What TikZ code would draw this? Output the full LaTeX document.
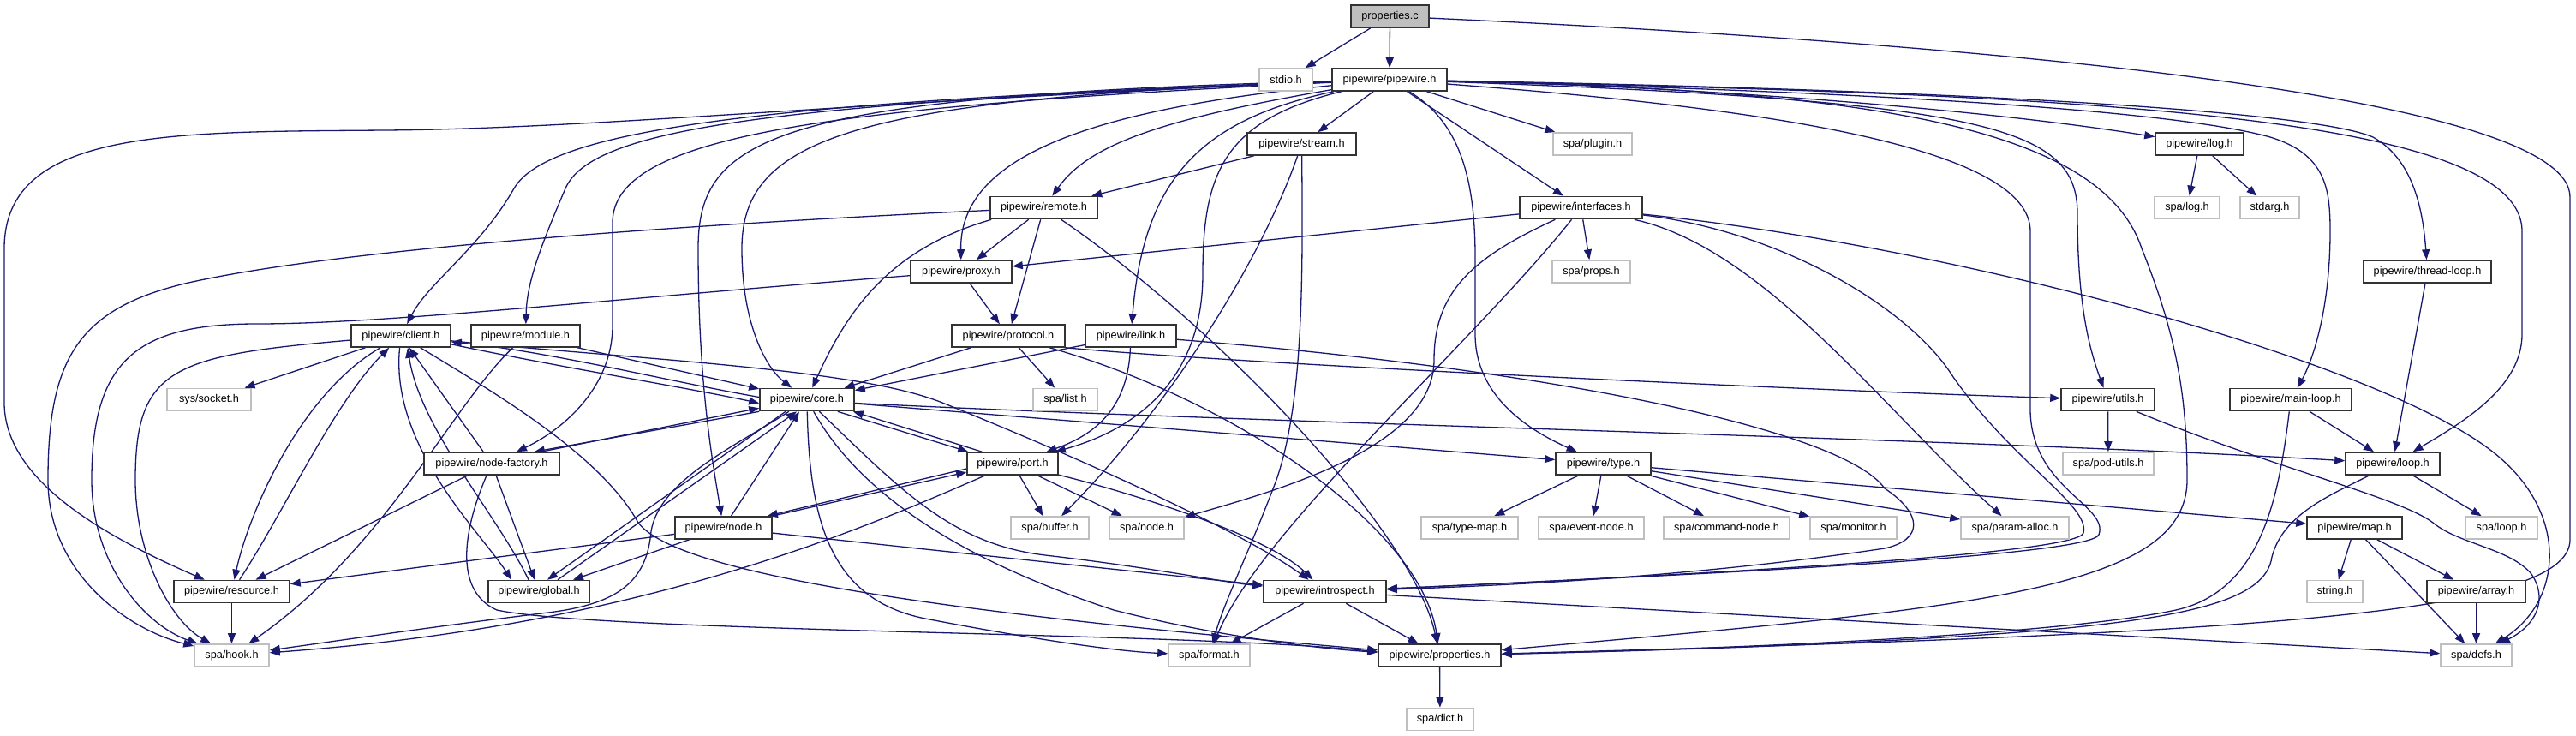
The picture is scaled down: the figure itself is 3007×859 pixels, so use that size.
\documentclass[tikz,border=0pt]{standalone}
\usepackage{fontspec}
\setmainfont{Liberation Sans}
\usetikzlibrary{arrows.meta,backgrounds}
\definecolor{edgeblue}{RGB}{25,25,112}
\definecolor{greyline}{RGB}{191,191,191}
\newcommand{\gfont}{\fontsize{12.7}{14}\selectfont}
\tikzset{
  hdr/.style={draw=black!80,line width=1.6pt,fill=white,minimum height=26pt,inner sep=0pt,font=\gfont},
  ext/.style={hdr,draw=greyline},
  cur/.style={hdr,fill=greyline},
  inc/.style={-{Triangle[length=12pt,width=9pt]},draw=edgeblue,line width=1.3pt},
}
\begin{document}
\begin{tikzpicture}[x=1pt,y=-1pt]
\useasboundingbox (0,0) rectangle (3007,859);
\node[cur,minimum width=91pt] (pc) at (1622.5,19) {properties.c};
\node[ext,minimum width=62pt] (stdio) at (1501,93) {stdio.h};
\node[hdr,minimum width=134pt] (pw) at (1622,93) {pipewire/pipewire.h};
\node[hdr,minimum width=127pt] (stream) at (1519.5,168) {pipewire/stream.h};
\node[ext,minimum width=92pt] (plugin) at (1859,168) {spa/plugin.h};
\node[hdr,minimum width=103pt] (log) at (2567.5,168) {pipewire/log.h};
\node[hdr,minimum width=125pt] (remote) at (1218.5,242.5) {pipewire/remote.h};
\node[hdr,minimum width=143pt] (iface) at (1845.5,242.5) {pipewire/interfaces.h};
\node[ext,minimum width=76pt] (spalog) at (2553,242.5) {spa/log.h};
\node[ext,minimum width=69pt] (stdarg) at (2649.5,242.5) {stdarg.h};
\node[hdr,minimum width=118pt] (proxy) at (1122,317) {pipewire/proxy.h};
\node[ext,minimum width=91pt] (props) at (1857.5,317) {spa/props.h};
\node[hdr,minimum width=149pt] (tloop) at (2833.5,317) {pipewire/thread-loop.h};
\node[hdr,minimum width=116pt] (client) at (468,392) {pipewire/client.h};
\node[hdr,minimum width=127pt] (module) at (613.5,392) {pipewire/module.h};
\node[hdr,minimum width=132pt] (proto) at (1177,392) {pipewire/protocol.h};
\node[hdr,minimum width=106pt] (link) at (1320,392) {pipewire/link.h};
\node[ext,minimum width=98pt] (socket) at (244,466.5) {sys/socket.h};
\node[hdr,minimum width=110pt] (core) at (942,466.5) {pipewire/core.h};
\node[ext,minimum width=75pt] (list) at (1243.5,466.5) {spa/list.h};
\node[hdr,minimum width=109pt] (utils) at (2460.5,466.5) {pipewire/utils.h};
\node[hdr,minimum width=142pt] (mloop) at (2674,466.5) {pipewire/main-loop.h};
\node[hdr,minimum width=158pt] (nfac) at (574,541) {pipewire/node-factory.h};
\node[hdr,minimum width=106pt] (port) at (1182,541) {pipewire/port.h};
\node[hdr,minimum width=111pt] (type) at (1871.5,541) {pipewire/type.h};
\node[ext,minimum width=106pt] (podu) at (2461,541) {spa/pod-utils.h};
\node[hdr,minimum width=110pt] (loop) at (2793,541) {pipewire/loop.h};
\node[hdr,minimum width=113pt] (node) at (844.5,616) {pipewire/node.h};
\node[ext,minimum width=91pt] (buffer) at (1225.5,616) {spa/buffer.h};
\node[ext,minimum width=87pt] (snode) at (1338.5,616) {spa/node.h};
\node[ext,minimum width=113pt] (tmap) at (1715.5,616) {spa/type-map.h};
\node[ext,minimum width=123pt] (evnode) at (1857.5,616) {spa/event-node.h};
\node[ext,minimum width=147pt] (cmdnode) at (2015.5,616) {spa/command-node.h};
\node[ext,minimum width=101pt] (monitor) at (2163.5,616) {spa/monitor.h};
\node[ext,minimum width=126pt] (palloc) at (2352,616) {spa/param-alloc.h};
\node[hdr,minimum width=111pt] (map) at (2748.5,616) {pipewire/map.h};
\node[ext,minimum width=84pt] (sloop) at (2920,616) {spa/loop.h};
\node[hdr,minimum width=135pt] (res) at (270.5,690.5) {pipewire/resource.h};
\node[hdr,minimum width=118pt] (global) at (629,690.5) {pipewire/global.h};
\node[hdr,minimum width=143pt] (intro) at (1546.5,690.5) {pipewire/introspect.h};
\node[ext,minimum width=65pt] (string) at (2725.5,690.5) {string.h};
\node[hdr,minimum width=115pt] (array) at (2890.5,690.5) {pipewire/array.h};
\node[ext,minimum width=87pt] (hook) at (270.5,765) {spa/hook.h};
\node[ext,minimum width=95pt] (format) at (1411.5,765) {spa/format.h};
\node[hdr,minimum width=143pt] (propsh) at (1680.5,765) {pipewire/properties.h};
\node[ext,minimum width=83pt] (defs) at (2890.5,765) {spa/defs.h};
\node[ext,minimum width=78pt] (dict) at (1681,839.5) {spa/dict.h};
\begin{scope}[on background layer]
\fill[white] (0,0) rectangle (3007,859);
\foreach \a/\b in {pc/stdio,pc/pw,pw/stream,pw/plugin,pw/iface,stream/remote,remote/proxy,remote/proto,proxy/proto,iface/props,iface/proxy,log/spalog,log/stdarg,tloop/loop,mloop/loop,utils/podu,proto/list,proto/core,link/core,module/core,client/socket,nfac/client,nfac/res,nfac/global,node/core,node/res,node/global,node/intro,res/hook,core/type,type/tmap,type/evnode,type/cmdnode,type/monitor,type/palloc,type/map,port/buffer,port/snode,intro/propsh,intro/format,intro/defs,loop/sloop,map/string,map/defs,map/array,array/defs,propsh/dict} \draw[inc] (\a)--(\b);
% pipewire.h, right hand side
\draw[inc] (pc) .. controls (2300,50) and (3000,110) .. (3000,230) -- (3000,630) .. controls (3000,720) and (2600,740) .. (propsh);
\draw[inc] (pw) .. controls (1700,140) and (1722,200) .. (1722,300) -- (1722,390) .. controls (1722,460) and (1780,500) .. (type);
\draw[inc] (pw) .. controls (1950,100) and (2300,125) .. (log);
\draw[inc] (pw) .. controls (2300,105) and (2700,130) .. (2770,160) .. controls (2815,185) and (2828,240) .. (tloop);
\draw[inc] (pw) .. controls (2400,110) and (2944,130) .. (2944,270) -- (2944,390) .. controls (2944,450) and (2880,490) .. (loop);
\draw[inc] (pw) .. controls (2300,110) and (2560,135) .. (2650,160) .. controls (2715,180) and (2720,220) .. (2720,270) .. controls (2720,360) and (2700,420) .. (mloop);
\draw[inc] (pw) .. controls (2330,118) and (2425,150) .. (2425,250) .. controls (2425,360) and (2440,410) .. (utils);
\draw[inc] (pw) .. controls (2050,125) and (2370,170) .. (2370,270) -- (2370,480) .. controls (2372,570) and (2462,590) .. (2450,624) .. controls (2440,650) and (1950,672) .. (intro);
\draw[inc] (pw) .. controls (2150,105) and (2450,140) .. (2500,290) .. controls (2540,390) and (2553,460) .. (2553,560) .. controls (2553,690) and (2300,710) .. (propsh);
% pipewire.h, left hand side
\draw[inc] (pw) .. controls (900,118) and (640,150) .. (600,220) .. controls (560,290) and (500,330) .. (client);
\draw[inc] (pw) .. controls (900,120) and (690,150) .. (660,220) .. controls (630,290) and (615,330) .. (module);
\draw[inc] (pw) .. controls (950,125) and (715,160) .. (715,260) -- (715,380) .. controls (715,450) and (660,500) .. (nfac);
\draw[inc] (pw) .. controls (1000,118) and (700,150) .. (450,152) .. controls (200,154) and (5,150) .. (5,290) -- (5,470) .. controls (5,560) and (120,625) .. (res);
\draw[inc] (pw) .. controls (1000,115) and (866,160) .. (866,290) .. controls (866,380) and (895,430) .. (core);
\draw[inc] (pw) .. controls (900,112) and (815,160) .. (815,290) .. controls (815,450) and (832,540) .. (node);
\draw[inc] (pw) .. controls (1250,130) and (1120,190) .. (proxy);
\draw[inc] (pw) .. controls (1350,140) and (1270,170) .. (remote);
\draw[inc] (pw) .. controls (1400,140) and (1335,210) .. (link);
\draw[inc] (pw) .. controls (1430,140) and (1404,200) .. (1404,320) .. controls (1404,440) and (1330,500) .. (port);
% middle
\draw[inc] (stream) .. controls (1470,310) and (1360,480) .. (buffer);
\draw[inc] (stream) .. controls (1521,330) and (1521,470) .. (1490,560) .. controls (1460,640) and (1430,700) .. (format);
\draw[inc] (iface) .. controls (1720,300) and (1674,340) .. (1674,420) .. controls (1674,520) and (1500,570) .. (snode);
\draw[inc] (iface) .. controls (1720,400) and (1470,620) .. (format);
\draw[inc] (iface) .. controls (2060,290) and (2200,480) .. (palloc);
\draw[inc] (iface) .. controls (2080,270) and (2230,360) .. (2280,440) .. controls (2350,540) and (2440,590) .. (2432,622) .. controls (2425,648) and (1950,672) .. (intro);
\draw[inc] (iface) .. controls (2300,290) and (2760,420) .. (2900,520) .. controls (3000,590) and (2995,700) .. (defs);
\draw[inc] (link) .. controls (1800,430) and (2150,500) .. (2200,570) .. controls (2245,600) and (2245,630) .. (2200,640) .. controls (2000,670) and (1800,682) .. (intro);
\draw[inc] (link) .. controls (1317,470) and (1285,505) .. (port);
\draw[inc] ([xshift=2pt]remote.south west) .. controls (1040,290) and (990,360) .. (core);
\draw[inc] (remote) .. controls (1420,380) and (1650,620) .. (propsh);
\draw[inc] (proto) .. controls (1450,470) and (1660,620) .. (propsh);
\draw[inc] (proto.south east) .. controls (1450,425) and (2100,455) .. (utils);
\draw[inc] (utils) .. controls (2650,545) and (2800,580) .. (2840,610) .. controls (2870,635) and (2930,640) .. (2955,670) .. controls (2975,700) and (2960,730) .. (defs);
\draw[inc] (mloop) .. controls (2660,580) and (2640,690) .. (2540,712) .. controls (2400,742) and (2000,758) .. (propsh);
\draw[inc] (loop) .. controls (2720,578) and (2665,600) .. (2652,650) .. controls (2645,700) and (2560,725) .. (2300,742) .. controls (2100,755) and (1900,760) .. (propsh);
% core.h
\draw[inc] ([yshift=-4pt]core.east) .. controls (1500,495) and (2300,512) .. (loop);
\draw[inc] (core) .. controls (945,610) and (970,700) .. (1080,722) .. controls (1200,745) and (1300,760) .. (format);
\draw[inc] (core) .. controls (1000,570) and (1110,650) .. (1300,712) .. controls (1430,745) and (1550,758) .. (propsh);
\draw[inc] (core) .. controls (1050,570) and (1110,635) .. (1220,648) .. controls (1350,663) and (1430,680) .. (intro);
\draw[inc] (core) .. controls (860,520) and (770,560) .. (760,620) .. controls (755,680) and (720,705) .. (640,715) .. controls (500,732) and (380,750) .. (hook);
\draw[inc] (port) .. controls (1000,620) and (750,730) .. (hook);
\draw[inc] (port) .. controls (1320,575) and (1480,625) .. (intro);
% client.h and friends
\draw[inc] (client) .. controls (750,420) and (1000,430) .. (1100,470) .. controls (1250,530) and (1450,620) .. (intro);
\draw[inc] (client) .. controls (580,460) and (700,530) .. (745,610) .. controls (790,670) and (1100,715) .. (propsh);
\draw[inc] (nfac) .. controls (540,620) and (530,690) .. (580,712) .. controls (700,738) and (1400,738) .. ([yshift=4pt]propsh.west);
\draw[inc] (client) .. controls (200,415) and (158,430) .. (158,560) .. controls (158,650) and (200,725) .. (hook);
\draw[inc] (proxy) .. controls (700,350) and (450,378) .. (300,378) .. controls (160,378) and (107,420) .. (107,560) .. controls (107,660) and (170,730) .. (hook);
\draw[inc] (remote) .. controls (800,262) and (400,290) .. (220,330) .. controls (90,360) and (56,420) .. (56,560) .. controls (56,670) and (150,735) .. (hook);
\draw[inc] (module) .. controls (530,470) and (450,640) .. (hook);
% two way pairs
\draw[inc] ([yshift=4pt]client.south east) .. controls (650,428) and (800,452) .. ([yshift=-4pt]core.west);
\draw[inc] ([yshift=3pt]core.west) .. controls (780,445) and (640,410) .. ([yshift=-7pt]client.east);
\draw[inc] (client) .. controls (350,460) and (290,600) .. (res);
\draw[inc] (res) .. controls (330,600) and (390,470) .. (client);
\draw[inc] (client) .. controls (455,520) and (560,620) .. ([xshift=-32pt]global.north);
\draw[inc] ([xshift=-12pt]global.north) .. controls (580,600) and (490,500) .. ([xshift=8pt]client.south);
\draw[inc] ([xshift=-22pt]nfac.north east) -- ([yshift=4pt]core.south west);
\draw[inc] (core.south west) -- ([xshift=-30pt]nfac.north east);
\draw[inc] ([xshift=-20pt]core.south east) -- ([xshift=2pt]port.north west);
\draw[inc] ([xshift=18pt]port.north west) -- ([xshift=-2pt]core.south east);
\draw[inc] ([yshift=-6pt]port.west) -- ([xshift=-6pt]node.north east);
\draw[inc] (node.north east) -- ([yshift=-10pt]port.west);
\draw[inc] ([xshift=-25pt]core.south) -- ([xshift=10pt]global.north);
\draw[inc] ([xshift=22pt]global.north) -- ([xshift=-12pt]core.south);
\end{scope}
\end{tikzpicture}
\end{document}
